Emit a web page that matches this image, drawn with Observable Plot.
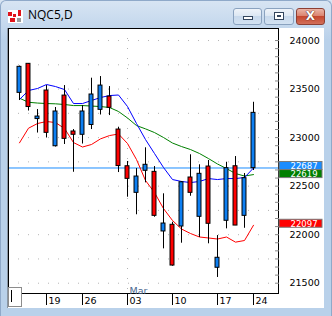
<!DOCTYPE html>
<html><head><meta charset="utf-8">
<script src="https://cdn.jsdelivr.net/npm/d3@7"></script>
<script src="https://cdn.jsdelivr.net/npm/@observablehq/plot@0.6"></script>
<style>
html,body{margin:0;padding:0;}
body{width:332px;height:316px;overflow:hidden;position:relative;background:linear-gradient(#d8e5f3,#c4d8ed 26px,#b9d1ea 40px,#b9d1ea);}
#outer{position:absolute;left:0;top:0;width:330px;height:315px;border:1px solid #8fa9c9;border-bottom:none;border-radius:6px 6px 0 0;}
#client{position:absolute;left:7px;top:28px;width:317px;height:280px;background:#fff;border-left:1px solid #8a96a4;box-sizing:border-box;}
#title{position:absolute;left:28px;top:7px;font:12px/16px "Open Sans",sans-serif;color:#000;}
#icon{position:absolute;left:8px;top:10px;width:15px;height:13px;background:#fff;}
#icon i{position:absolute;background:#e0141c;}
.btn{position:absolute;top:8px;height:15px;border:1px solid #8aa2bf;border-radius:3px;background:linear-gradient(#eef3f9,#dbe6f2 50%,#c8d9ec 50%,#d3e2f2);}
#close{background:linear-gradient(#eab4a6,#d97f6b 50%,#c5472f 50%,#d2705a);border-color:#8d3f33;}
#chart{position:absolute;left:0;top:27px;}
#scroll{position:absolute;left:8px;top:287px;width:12px;height:18px;border:1px solid #8c8c8c;background:#fff;}
#scroll i{position:absolute;left:2px;top:2px;width:1px;height:12px;background:#000;}
</style></head>
<body>
<div id="outer"></div>
<div id="client"></div>
<div id="icon"><i style="left:0;top:2px;width:4px;height:4px"></i><i style="left:5px;top:4px;width:3px;height:3px"></i><i style="left:10px;top:0;width:3px;height:6px"></i><i style="left:2px;top:8px;width:5px;height:4px"></i><i style="left:9px;top:8px;width:4px;height:4px;background:#9a9a9a"></i></div>
<div id="title">NQC5,D</div>
<div class="btn" style="left:233px;width:27px"><div style="position:absolute;left:9px;top:7px;width:8px;height:2px;background:#fff;border:1px solid #34465e"></div></div>
<div class="btn" style="left:264px;width:28px"><div style="position:absolute;left:9px;top:3px;width:8px;height:6px;background:#fff;border:1px solid #34465e"><div style="position:absolute;left:2px;top:2px;width:2px;height:0px;border:1px solid #34465e"></div></div></div>
<div class="btn" id="close" style="left:296px;width:27px"><div style="position:absolute;left:0;top:0;width:27px;text-align:center;font:bold 12px/15px 'DejaVu Sans',sans-serif;color:#fff;text-shadow:0 0 1px #4a1a12,0 0 1px #4a1a12">X</div></div>
<div id="chart"></div>
<div id="scroll"><i></i></div>
<script>
// Daily OHLC candles (index 1..27)
const open  = [23461, 23760, 23191, 23485, 22911, 23433, 23063, 23029, 23130, 23286, 23423, 23083, 22705, 22431, 22658, 22647, 22033, 22102, 22084, 22589, 22184, 22702, 21659, 22143, 22705, 22194, 22685];
const high  = [23737, 23763, 23289, 23536, 23310, 23536, 23083, 23330, 23612, 23629, 23526, 23107, 22754, 22681, 22895, 22702, 22421, 22128, 22548, 22823, 22720, 22764, 21991, 22746, 22805, 22630, 23364];
const low   = [23382, 23274, 23047, 22996, 22903, 22929, 22643, 22934, 23083, 23233, 23227, 22640, 22386, 22205, 22534, 22180, 21854, 21675, 21912, 22396, 21971, 21906, 21559, 22060, 22094, 22066, 22661];
const close = [23729, 23315, 23217, 23049, 23269, 22987, 23029, 23269, 23444, 23536, 23307, 22707, 22575, 22599, 22720, 22194, 22115, 21682, 22540, 22431, 22627, 22112, 21762, 22685, 22094, 22582, 23255];
// Overlay studies
const maBlue  = [23392, 23485, 23506, 23547, 23526, 23495, 23351, 23351, 23382, 23413, 23433, 23439, 23320, 23145, 22980, 22836, 22692, 22568, 22548, 22537, 22548, 22578, 22568, 22578, 22578, 22589, 22687];
const maGreen = [23406, 23364, 23356, 23351, 23348, 23341, 23330, 23330, 23325, 23320, 23310, 23269, 23202, 23124, 23090, 23052, 23001, 22944, 22908, 22877, 22836, 22784, 22728, 22681, 22630, 22604, 22619];
const maRed   = [22946, 23097, 23145, 23166, 23155, 23094, 22949, 22903, 22929, 22987, 23021, 23037, 22939, 22774, 22558, 22434, 22269, 22146, 22058, 22012, 21976, 21966, 21955, 21976, 21923, 21940, 22097];
// Axis labels
const tickIndex  = [4, 8, 13, 18, 23, 27];
const tickLabels = ["19", "26", "03", "10", "17", "24"];
const monthIndex = [13];
const monthLabels = ["Mar"];
const priceTicks = [21500, 22000, 22500, 23000, 23500, 24000];
const gridTicks  = [21500, 21750, 22000, 22250, 22500, 22750, 23000, 23250, 23500, 23750, 24000];
const levelValue = [22687];
const tagValues  = [22687, 22619, 22097];

const tagColors = ["#1a8cff", "#008000", "#ff0000"];
const tagInsets = [[-6, -2, -2], [-4.5, -3.5, 0], [-5.5, -2.5, -1.3]]; // top, bottom, text dy
const upColor = "#0d7ff2", downColor = "#ff0000";

const idx = open.map((_, i) => i + 1);
const candles = idx.map((d, i) => ({i: d, open: open[i], high: high[i], low: low[i], close: close[i]}));
const minorTicks = d3.range(21500, 24001, 500 / 6);
const xDomain = [-2 / 9, 29 + 7 / 9];

const tagMarks = tagValues.flatMap((v, i) => [
  Plot.rect([v], {x1: () => xDomain[1], x2: () => xDomain[1], y1: d => d, y2: d => d,
    insetLeft: 1, insetRight: -44, insetTop: tagInsets[i][0], insetBottom: tagInsets[i][1],
    fill: tagColors[i], stroke: "#7a7a7a"}),
  Plot.text([v], {x: () => xDomain[1], y: d => d, text: d => String(d), dx: 12, dy: tagInsets[i][2],
    textAnchor: "start", fill: "#fff", fontSize: 8.5})
]);

const chart = Plot.plot({
  width: 332, height: 282,
  marginLeft: 8, marginRight: 54, marginTop: 1, marginBottom: 16,
  x: {type: "linear", domain: xDomain, label: null},
  y: {domain: [21394, 24124], label: null},
  style: {background: "transparent", fontFamily: "'DejaVu Sans', sans-serif", fontSize: "9.5px", color: "#000", overflow: "visible"},
  marks: [
    Plot.ruleY(gridTicks, {y: d => d, stroke: "#b4b4b4", strokeDasharray: "1 9"}),
    Plot.ruleX(monthIndex, {x: d => d, stroke: "#b4b4b4", strokeDasharray: "1 9"}),
    Plot.ruleY(levelValue, {y: d => d, stroke: "#1a8cff"}),
    Plot.line(idx, {x: d => d, y: (d, i) => maRed[i], stroke: "#ff0000", strokeWidth: 1}),
    Plot.line(idx, {x: d => d, y: (d, i) => maGreen[i], stroke: "#008000", strokeWidth: 1}),
    Plot.line(idx, {x: d => d, y: (d, i) => maBlue[i], stroke: "#0000ff", strokeWidth: 1}),
    Plot.ruleX(candles, {x: "i", y1: "low", y2: "high", stroke: "#000"}),
    Plot.rect(candles, {x1: d => d.i - 0.22, x2: d => d.i + 0.22, y1: "open", y2: "close",
      fill: d => d.close >= d.open ? upColor : downColor, stroke: "#000"}),
    Plot.frame({stroke: "#000"}),
    Plot.axisY({anchor: "right", ticks: minorTicks, tickSize: -4, tickFormat: () => "", stroke: "#888"}),
    Plot.axisY({anchor: "right", ticks: priceTicks, tickSize: 0, tickPadding: 11, tickFormat: d3.format("d"), textAnchor: "start"}),
    Plot.axisX({ticks: tickIndex, tickSize: 12, tickFormat: () => ""}),
    Plot.text(tickIndex, {x: d => d, frameAnchor: "bottom", text: (d, i) => tickLabels[i], dx: 2, dy: 3.5, textAnchor: "start", lineAnchor: "top", fill: "#000"}),
    Plot.text(monthIndex, {x: d => d, frameAnchor: "bottom", text: (d, i) => monthLabels[i], dx: 2, dy: 0, textAnchor: "start", lineAnchor: "bottom", fill: "#4a6890"}),
    ...tagMarks
  ]
});
document.getElementById("chart").appendChild(chart);
</script>
</body></html>
